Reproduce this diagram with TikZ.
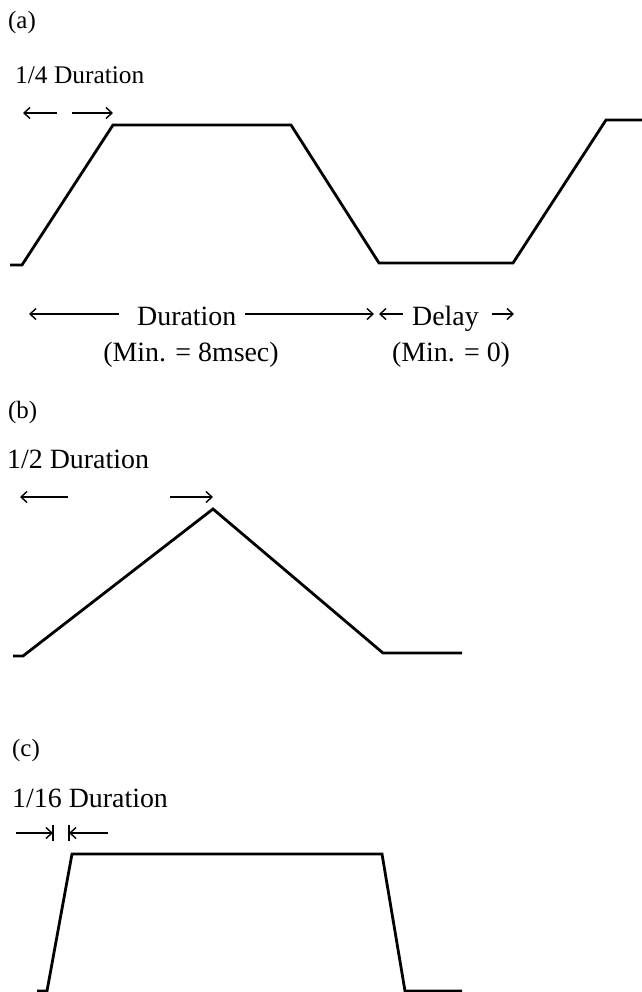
\documentclass[tikz,border=0pt]{standalone}
\usepackage{fontspec}
\setmainfont{Liberation Serif}
\usetikzlibrary{arrows.meta}
\begin{document}
\begin{tikzpicture}[x=1bp,y=-1bp,
  wave/.style={line width=2.8bp, line join=miter},
  dimarrow/.style={line width=1.4bp, -{Straight Barb[length=6bp,width=11bp,line width=1.4bp]}},
  barline/.style={line width=2bp},
  lbl/.style={inner sep=0pt, font=\fontsize{28}{31}\selectfont},
  tag/.style={inner sep=0pt, font=\fontsize{25}{28}\selectfont}]
\useasboundingbox (0,0) rectangle (642,992);

% ---------- (a) ----------
\node[tag, anchor=base west] (ta) at (8,28) {(a)};
\node[lbl, anchor=base west, font=\fontsize{25.5}{28}\selectfont] (qa) at (15,83) {1/4 Duration};
\coordinate (a1l) at (57,113); \coordinate (a1r) at (23,113);
\coordinate (a2l) at (72,113); \coordinate (a2r) at (113,113);
\draw[dimarrow] (a1l) -- (a1r);
\draw[dimarrow] (a2l) -- (a2r);
\draw[wave] (10,265) -- (22,265) -- (113,125) -- (291,125) -- (379,263)
  -- (513,263) -- (606,120) -- (642,120);

\node[lbl, anchor=base west] (dur) at (137,325) {Duration};
\node[lbl, anchor=base west] (del) at (412,325) {Delay};
\coordinate (d1s) at (119,314); \coordinate (d1e) at (29,314);
\coordinate (d2s) at (245,314); \coordinate (d2e) at (374,314);
\coordinate (d3s) at (403,314); \coordinate (d3e) at (379,314);
\coordinate (d4s) at (492,314); \coordinate (d4e) at (514,314);
\draw[dimarrow] (d1s) -- (d1e);
\draw[dimarrow] (d2s) -- (d2e);
\draw[dimarrow] (d3s) -- (d3e);
\draw[dimarrow] (d4s) -- (d4e);
\node[lbl, anchor=base] (mina) at (191,361) {(Min. = 8msec)};
\node[lbl, anchor=base] (minb) at (451,361) {(Min. = 0)};

% ---------- (b) ----------
\node[tag, anchor=base west] (tb) at (8,418) {(b)};
\node[lbl, anchor=base west] (qb) at (7,468) {1/2 Duration};
\coordinate (b1s) at (68,497); \coordinate (b1e) at (20,497);
\coordinate (b2s) at (170,497); \coordinate (b2e) at (213,497);
\draw[dimarrow] (b1s) -- (b1e);
\draw[dimarrow] (b2s) -- (b2e);
\draw[wave] (13,656) -- (23,656) -- (213,509) -- (383,653) -- (462,653);

% ---------- (c) ----------
\node[tag, anchor=base west] (tc) at (12,756) {(c)};
\node[lbl, anchor=base west] (qc) at (12,807) {1/16 Duration};
\coordinate (c1s) at (16,833); \coordinate (c1e) at (53,833);
\coordinate (c2s) at (108,833); \coordinate (c2e) at (69,833);
\draw[dimarrow] (c1s) -- (c1e);
\draw[dimarrow] (c2s) -- (c2e);
\draw[barline] ([yshift=-8bp]c1e) -- ([yshift=8bp]c1e);
\draw[barline] ([yshift=-8bp]c2e) -- ([yshift=8bp]c2e);
\draw[wave] (37,991) -- (47,991) -- (72,854) -- (382,854) -- (405,991) -- (462,991);
\end{tikzpicture}
\end{document}
